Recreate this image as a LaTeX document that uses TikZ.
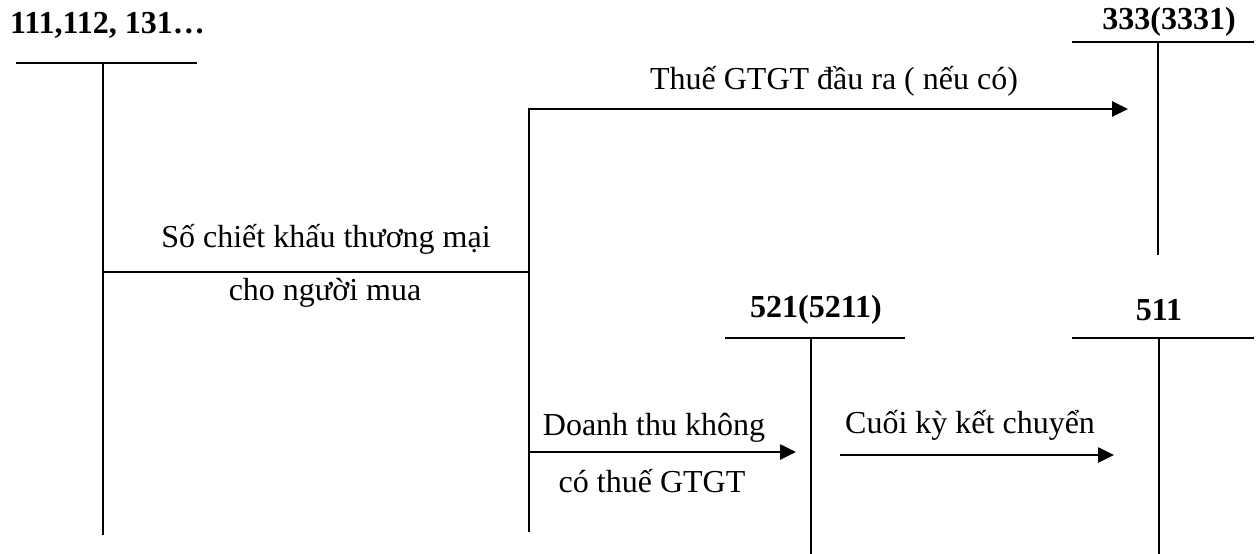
\documentclass[tikz,border=0pt]{standalone}
\usepackage{fontspec}
\setmainfont{Liberation Serif}
\usetikzlibrary{arrows.meta}
\begin{document}
\begin{tikzpicture}[x=1pt,y=-1pt,
  txt/.style={inner sep=0pt, anchor=base, font=\fontsize{32}{36}\selectfont},
  acct/.style={inner sep=0pt, anchor=base, font=\fontsize{32}{36}\selectfont\bfseries},
  tline/.style={line width=2pt},
  link/.style={line width=2.6pt, line join=miter},
  flow/.style={link, -{Triangle[length=16pt,width=15pt]}}]
\useasboundingbox (0,0) rectangle (1259,554);

% T-account 111,112,131
\node[acct, anchor=base west] (n111) at (10,34) {111,112, 131…};
\coordinate (a111L) at (16,63);
\coordinate (a111R) at (197,63);
\coordinate (a111T) at (103,63);
\coordinate (a111B) at (103,535);
\draw[tline] (a111L) -- (a111R);
\draw[tline] (a111T) -- (a111B);

% T-account 333(3331)
\node[acct] (n333) at (1169,30) {333(3331)};
\coordinate (a333L) at (1072,42);
\coordinate (a333R) at (1254,42);
\coordinate (a333T) at (1158,42);
\coordinate (a333B) at (1158,255);
\draw[tline] (a333L) -- (a333R);
\draw[tline] (a333T) -- (a333B);

% T-account 521(5211)
\node[acct] (n521) at (816,317) {521(5211)};
\coordinate (a521L) at (725,338);
\coordinate (a521R) at (905,338);
\coordinate (a521T) at (811,338);
\coordinate (a521B) at (811,554);
\draw[tline] (a521L) -- (a521R);
\draw[tline] (a521T) -- (a521B);

% T-account 511
\node[acct] (n511) at (1159,320) {511};
\coordinate (a511L) at (1072,338);
\coordinate (a511R) at (1254,338);
\coordinate (a511T) at (1159,338);
\coordinate (a511B) at (1159,554);
\draw[tline] (a511L) -- (a511R);
\draw[tline] (a511T) -- (a511B);

% split of the discount entry
\coordinate (j) at (103,272);
\coordinate (k) at (529,272);
\coordinate (ktop) at (529,109);
\coordinate (kbot) at (529,532);
\coordinate (kmid) at (529,452);
\coordinate (in333) at (1128,109);
\coordinate (in521) at (796,452);
\coordinate (out521) at (840,455);
\coordinate (in511) at (1114,455);

\draw[link] (j) -- (k);
\draw[flow] (kbot) -- (ktop) -- (in333);
\draw[flow] (kmid) -- (in521);
\draw[flow] (out521) -- (in511);

% entry labels
\node[txt] (l1) at (834,89) {Thuế GTGT đầu ra ( nếu có)};
\node[txt] (l2) at (326,247) {Số chiết khấu thương mại};
\node[txt] (l3) at (325,300) {cho người mua};
\node[txt] (l4) at (654,435) {Doanh thu không};
\node[txt] (l5) at (652,492) {có thuế GTGT};
\node[txt, anchor=base west] (l6) at (845,433) {Cuối kỳ kết chuyển};
\end{tikzpicture}
\end{document}
